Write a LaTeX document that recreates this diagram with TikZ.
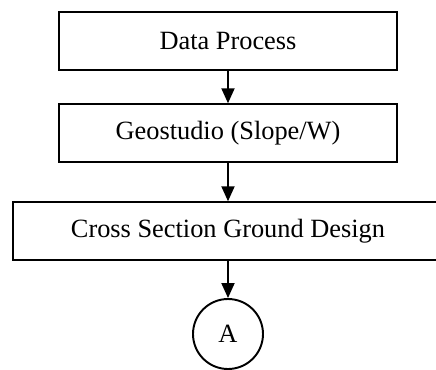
\documentclass[tikz,border=0pt]{standalone}
\usepackage{fontspec}
\setmainfont{Liberation Serif}
\usepackage{tikz}
\usetikzlibrary{arrows.meta}

\begin{document}
\begin{tikzpicture}[
    procbox/.style={draw, line width=1.1pt, minimum width=6.75cm, minimum height=1.15cm,
      inner sep=0pt, font=\fontsize{15}{18}\selectfont},
    widebox/.style={procbox, minimum width=8.61cm},
    joint/.style={draw, circle, line width=1.1pt, minimum size=1.4cm, inner sep=0pt,
      font=\fontsize{15}{18}\selectfont},
    flow/.style={line width=1.1pt, -{Triangle[length=0.3cm,width=0.26cm]}}
  ]
    % fix the page size
    \useasboundingbox (0,0) rectangle (8.72,7.38);

    % draw boxes
    \node[procbox] (data) at (4.56,6.56) {Data Process};
    \node[procbox] (geo) at (4.56,4.72) {Geostudio (Slope/W)};
    \node[widebox] (cross) at (4.56,2.76) {Cross Section Ground Design};

    % draw connector circle
    \node[joint] (conA) at (4.56,0.70) {A};

    % draw arrows
    \draw[flow] (data) -- (geo);
    \draw[flow] (geo) -- (cross);
    \draw[flow] (cross) -- (conA);

  \end{tikzpicture}
\end{document}
